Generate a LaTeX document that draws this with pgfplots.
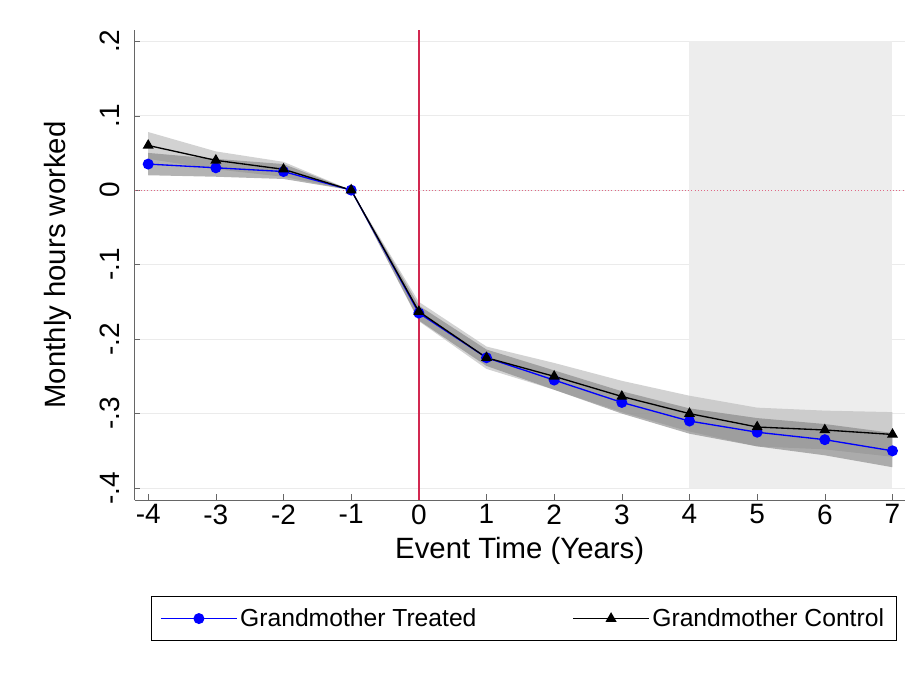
\documentclass[border=0pt]{standalone}
\usepackage{pgfplots}
\pgfplotsset{compat=1.18}
\usepackage{fontspec}
\setmainfont{Liberation Sans}
\definecolor{vline}{RGB}{210,40,80}
\begin{document}
\begin{tikzpicture}
\useasboundingbox (-101pt,-132pt) rectangle (589pt,375pt);
\begin{axis}[at={(0pt,0pt)}, anchor=south west,
  scale only axis, width=577.5pt, height=352.5pt,
  xmin=-4.2, xmax=7.18, ymin=-0.416, ymax=0.215,
  axis x line*=bottom, axis y line*=left,
  axis line style={black!60},
  xtick={-4,...,7}, ytick={-0.4,-0.3,-0.2,-0.1,0,0.1,0.2},
  yticklabels={-.4,-.3,-.2,-.1,0,.1,.2},
  yticklabel style={rotate=90, anchor=south},
  yticklabel shift=8pt,
  /pgf/number format/assume math mode=true,
  tick label style={font=\fontsize{21}{23}\selectfont},
  tick style={black!60},
  ymajorgrids, grid style={black!8},
  xlabel={Event Time (Years)}, ylabel={Monthly hours worked},
  label style={font=\fontsize{22}{24}\selectfont},
  xlabel style={yshift=-3pt}, ylabel style={yshift=14pt},
  legend style={at={(0.505,-0.205)}, anchor=north, legend columns=2,
    font=\fontsize{18.5}{21}\selectfont, draw=black, inner sep=7pt,
    /tikz/every even column/.append style={column sep=70pt}},
  legend cell align=left,
  every axis legend/.append style={legend image code/.code={
    \draw[mark repeat=2,mark phase=2] plot coordinates {(0cm,0cm)(1cm,0cm)(2cm,0cm)};}},
]
\addplot[draw=none, fill=black!7, forget plot] coordinates {(4,-0.4) (7,-0.4) (7,0.2) (4,0.2)} -- cycle;
\addplot[draw=none, fill=black!25, fill opacity=0.7, forget plot] coordinates {
(-4,0.078)(-3,0.052)(-2,0.038)(-1,0)(0,-0.150)(1,-0.210)(2,-0.232)(3,-0.256)(4,-0.276)(5,-0.292)(6,-0.296)(7,-0.298)
(7,-0.358)(6,-0.348)(5,-0.344)(4,-0.324)(3,-0.298)(2,-0.268)(1,-0.240)(0,-0.176)(-1,0)(-2,0.018)(-3,0.028)(-4,0.042)} -- cycle;
\addplot[draw=none, fill=black!50, fill opacity=0.6, forget plot] coordinates {
(-4,0.050)(-3,0.042)(-2,0.035)(-1,0)(0,-0.155)(1,-0.214)(2,-0.242)(3,-0.270)(4,-0.293)(5,-0.306)(6,-0.314)(7,-0.326)
(7,-0.372)(6,-0.356)(5,-0.344)(4,-0.327)(3,-0.300)(2,-0.268)(1,-0.236)(0,-0.175)(-1,0)(-2,0.015)(-3,0.018)(-4,0.020)} -- cycle;
\addplot[vline, line width=1pt, forget plot] coordinates {(0,-0.416)(0,0.215)};
\addplot[vline!70, dotted, forget plot] coordinates {(-4.2,0)(7.18,0)};
\addplot[blue, line width=1pt, mark=*, mark size=3.6pt, mark options={fill=blue}] coordinates {
(-4,0.035)(-3,0.03)(-2,0.025)(-1,0)(0,-0.165)(1,-0.225)(2,-0.255)(3,-0.285)(4,-0.31)(5,-0.325)(6,-0.335)(7,-0.35)};
\addlegendentry{Grandmother Treated}
\addplot[black, line width=1pt, mark=triangle*, mark size=3.8pt] coordinates {
(-4,0.06)(-3,0.04)(-2,0.028)(-1,0)(0,-0.163)(1,-0.225)(2,-0.25)(3,-0.277)(4,-0.30)(5,-0.318)(6,-0.322)(7,-0.328)};
\addlegendentry{Grandmother Control}
\end{axis}
\end{tikzpicture}
\end{document}
